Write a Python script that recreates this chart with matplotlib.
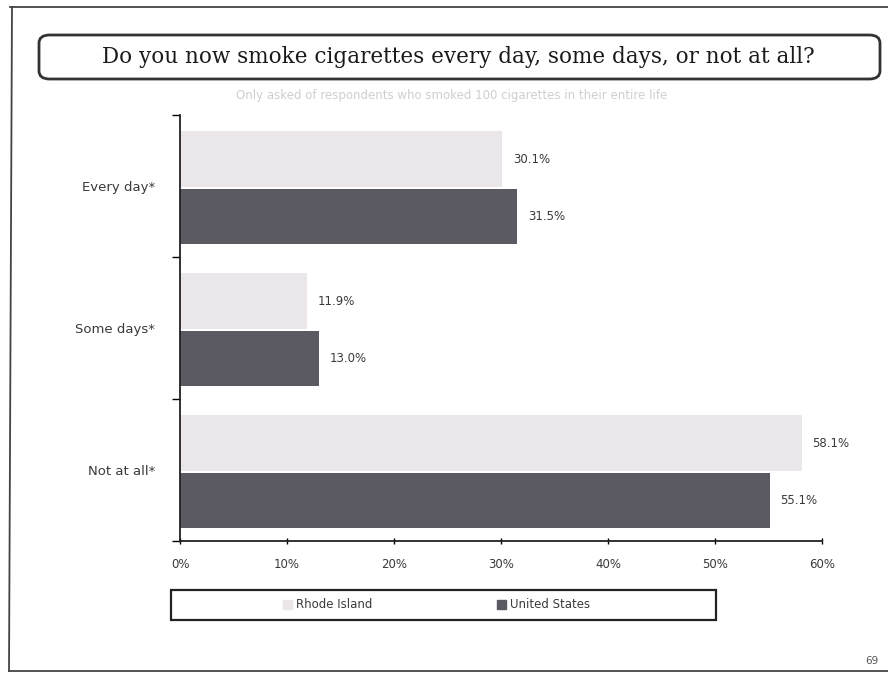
#!/usr/bin/env python3
"""Smoking frequency: Rhode Island vs United States, horizontal grouped bars."""

import matplotlib.pyplot as plt
from matplotlib.patches import FancyBboxPatch, Rectangle
from matplotlib.lines import Line2D
import numpy as np

categories = ["Every day*", "Some days*", "Not at all*"]
series_names = ["Rhode Island", "United States"]
rhode_island = [30.1, 11.9, 58.1]
united_states = [31.5, 13.0, 55.1]
x_ticks = [0, 10, 20, 30, 40, 50, 60]

RI_COLOR = "#ebe6ea"
US_COLOR = "#5b5a63"
TEXT = "#3a3a3a"

W, H = 888, 673
fig = plt.figure(figsize=(W / 100, H / 100), dpi=100)


def fx(px):
    return px / W


def fy(py):
    return 1 - py / H


# page frame (scanned slide border)
for xs, ys in [((10, 890), (7, 7)), ((12, 9), (7, 671)), ((9, 890), (671, 671))]:
    fig.add_artist(Line2D([fx(x) for x in xs], [fy(y) for y in ys],
                          transform=fig.transFigure, color="#444444", lw=1.3))

# title box
fig.add_artist(FancyBboxPatch((fx(39), fy(79)), fx(880) - fx(39), fy(35) - fy(79),
                              boxstyle="round,pad=0,rounding_size=0.012",
                              transform=fig.transFigure, fill=False,
                              ec="#333333", lw=2.0))
fig.text(fx(458), fy(57), "Do you now smoke cigarettes every day, some days, or not at all?",
         ha="center", va="center", fontsize=15.5, family="DejaVu Serif", color="#1a1a1a")
fig.text(fx(452), fy(96),
         "Only asked of respondents who smoked 100 cigarettes in their entire life",
         ha="center", va="center", fontsize=8.5, color="#cfcfcf")

ax = fig.add_axes([fx(180), fy(541), fx(822) - fx(180), fy(115) - fy(541)])

y = np.arange(len(categories))
h = 0.39
ax.barh(y - 0.19, rhode_island, height=h, color=RI_COLOR, label=series_names[0])
ax.barh(y + 0.215, united_states, height=h, color=US_COLOR, label=series_names[1])

for yi, v in zip(y - 0.19, rhode_island):
    ax.text(v + 1.0, yi, f"{v:.1f}%", va="center", ha="left", fontsize=8.5, color=TEXT)
for yi, v in zip(y + 0.215, united_states):
    ax.text(v + 1.0, yi, f"{v:.1f}%", va="center", ha="left", fontsize=8.5, color=TEXT)

ax.set_xlim(0, 60)
ax.set_ylim(2.5, -0.5)
ax.set_xticks(x_ticks)
ax.set_xticklabels([f"{t}%" for t in x_ticks], fontsize=8.5, color=TEXT)
ax.tick_params(axis="x", length=5, width=1, direction="inout", pad=10)

# boundary ticks between categories, labels at the centres
ax.set_yticks([-0.5, 0.5, 1.5, 2.5])
ax.set_yticklabels([])
ax.set_yticks(y, minor=True)
ax.set_yticklabels(categories, minor=True, fontsize=9.5, color=TEXT)
ax.tick_params(axis="y", which="major", length=6, width=1)
ax.tick_params(axis="y", which="minor", length=0, pad=18)

for side in ("top", "right"):
    ax.spines[side].set_visible(False)
for side in ("left", "bottom"):
    ax.spines[side].set_color("#222222")
    ax.spines[side].set_linewidth(1.3)

# legend box below the axis
fig.add_artist(Rectangle((fx(171), fy(620)), fx(716) - fx(171), fy(590) - fy(620),
                         transform=fig.transFigure, fill=False, ec="#222222", lw=1.6))
for x0, color, name in [(283, RI_COLOR, series_names[0]), (497, US_COLOR, series_names[1])]:
    fig.add_artist(Rectangle((fx(x0), fy(609)), fx(9), fy(600) - fy(609),
                             transform=fig.transFigure, color=color))
    fig.text(fx(x0 + 13), fy(605), name, ha="left", va="center", fontsize=8.5, color=TEXT)

fig.text(fx(872), fy(661), "69", ha="center", va="center", fontsize=7.5, color="#555555")

fig.savefig("out.png", dpi=100)
